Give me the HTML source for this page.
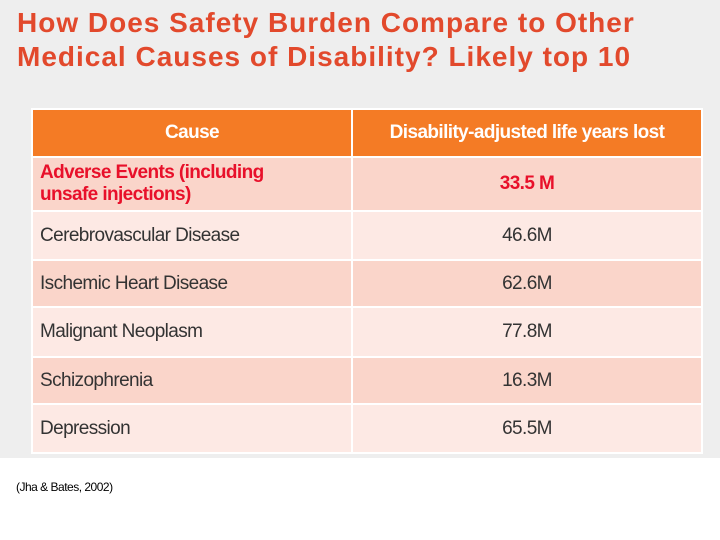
<!DOCTYPE html>
<html><head><meta charset="utf-8"><style>
body{margin:0;width:720px;height:540px;overflow:hidden;background:#fff;font-family:"Liberation Sans",sans-serif;position:relative}
#bg{position:absolute;left:0;top:0;width:720px;height:458px;background:#eeeeee}
h1{position:absolute;left:17px;top:6px;margin:0;font-size:28px;line-height:34px;color:#e2492c;font-weight:bold;letter-spacing:1px;white-space:nowrap}
table{position:absolute;left:31px;top:108px;width:672px;border-collapse:collapse;font-size:19px;letter-spacing:-0.6px}
td,th{border:2px solid #fff;padding:0 7px}
th{background:#f47b25;color:#fff;height:46px;font-weight:bold;font-size:19px}
td:nth-child(2){text-align:center}
tr.a td{background:#fad5ca}tr.b td{background:#fde9e4}
td{color:#333}
.red td{color:#e8102a;font-weight:bold}
#cite{position:absolute;left:16px;top:480px;font-size:12px;color:#000;letter-spacing:-0.5px}
</style></head><body>
<div id="bg"></div>
<h1>How Does Safety Burden Compare to Other<br>Medical Causes of Disability? Likely top 10</h1>
<table>
<tr><th style="width:304px">Cause</th><th>Disability-adjusted life years lost</th></tr>
<tr class="a red" style="height:54px"><td style="line-height:22px">Adverse Events (including<br>unsafe injections)</td><td>33.5 M</td></tr>
<tr class="b" style="height:49px"><td>Cerebrovascular Disease</td><td>46.6M</td></tr>
<tr class="a" style="height:47px"><td>Ischemic Heart Disease</td><td>62.6M</td></tr>
<tr class="b" style="height:50px"><td>Malignant Neoplasm</td><td>77.8M</td></tr>
<tr class="a" style="height:47px"><td>Schizophrenia</td><td>16.3M</td></tr>
<tr class="b" style="height:49px"><td>Depression</td><td>65.5M</td></tr>
</table>
<div id="cite">(Jha &amp; Bates, 2002)</div>
</body></html>
